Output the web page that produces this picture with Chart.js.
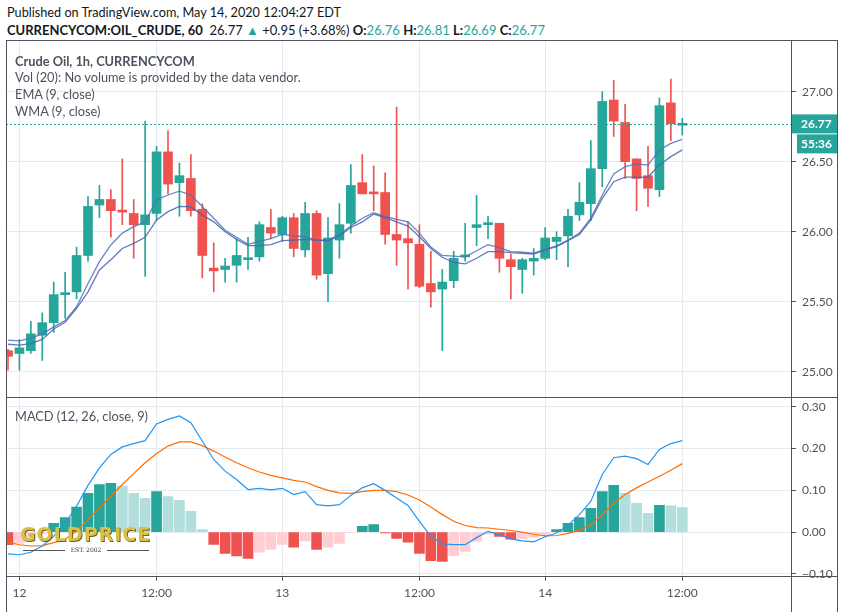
<!DOCTYPE html>
<html>
<head>
<meta charset="utf-8">
<script src="https://cdn.jsdelivr.net/npm/chart.js@4.4.1/dist/chart.umd.min.js"></script>
<style>
  body { margin: 0; width: 845px; height: 612px; background: #fff; position: relative; overflow: hidden; font-family: Lato, sans-serif; }
  canvas { position: absolute; left: 6px; }
  .txt { position: absolute; white-space: nowrap; line-height: 16px; }
  .up { color: #26a69a; }
  .line { position: absolute; background: #50535e; }
  #logo { position: absolute; left: 20px; top: 523px; font-family: "DejaVu Sans", sans-serif; font-weight: bold; font-size: 19px; letter-spacing: 1px; color: #d8c04a; text-shadow: 1px 1px 0 #7a5f14; }
  #est { position: absolute; left: 22px; top: 546px; width: 128px; font: 6px "DejaVu Serif", serif; color: #333; text-align: center; }
</style>
</head>
<body>
<div class="txt" style="left:7px;top:4px;font-size:12.7px;color:#131722;">Published on TradingView.com, May 14, 2020 12:04:27 EDT</div>
<div class="txt" style="left:7px;top:22px;font-size:13px;color:#131722;"><b>CURRENCYCOM:OIL_CRUDE, 60</b>&nbsp; 26.77 <span class="up">▲</span> +0.95 (+3.68%) <b>O:</b><span class="up">26.76</span> <b>H:</b><span class="up">26.81</span> <b>L:</b><span class="up">26.69</span> <b>C:</b><span class="up">26.77</span></div>

<canvas id="priceChart" width="832" height="358" style="top:40px"></canvas>
<canvas id="macdChart" width="832" height="214" style="top:398px"></canvas>

<div class="txt" style="left:15px;top:53px;font-size:12.8px;color:#4c525e;font-weight:bold;">Crude Oil, 1h, CURRENCYCOM</div>
<div class="txt" style="left:15px;top:69px;font-size:12.8px;color:#4c525e;">Vol (20): No volume is provided by the data vendor.</div>
<div class="txt" style="left:15px;top:86px;font-size:12.8px;color:#4c525e;">EMA (9, close)</div>
<div class="txt" style="left:15px;top:103px;font-size:12.8px;color:#4c525e;">WMA (9, close)</div>
<div class="txt" style="left:15px;top:408px;font-size:12.8px;color:#4c525e;">MACD (12, 26, close, 9)</div>

<div id="logo">GOLDPRICE</div>
<div id="est"><span style="display:inline-block;width:42px;border-top:1px solid #555;vertical-align:middle;margin-right:6px"></span>EST. 2002<span style="display:inline-block;width:42px;border-top:1px solid #555;vertical-align:middle;margin-left:6px"></span></div>

<div class="line" style="left:6px;top:40px;width:832px;height:1px"></div>
<div class="line" style="left:6px;top:40px;width:1px;height:572px"></div>
<div class="line" style="left:837px;top:40px;width:1px;height:572px"></div>
<div class="line" style="left:791px;top:40px;width:1px;height:572px"></div>
<div class="line" style="left:6px;top:397px;width:832px;height:1px"></div>
<div class="line" style="left:6px;top:576px;width:832px;height:1px"></div>

<script>
// bar index 0 = 11 May 23:00, one bar per hour (gap at the daily break)
const open  = [25.15,25.13,25.15,25.26,25.35,25.55,25.57,25.83,26.19,26.23, 26.15,26.13,26.05,26.13,26.57,26.35,26.38,26.16,25.74,25.73, 25.76,25.80,25.82,26.03,25.98,26.10,25.87,26.13,25.70,25.94, 26.06,26.35,26.28,26.28,25.98,25.95,25.91,25.63,25.59,25.65, 25.82,26.03,26.05,26.06,25.80,25.73,25.79,25.81,25.93,25.97, 26.12,26.20,26.45,26.94,26.78,26.52,26.40,26.30,26.92,26.76];
const high  = [25.16,25.23,25.36,25.42,25.64,25.71,25.89,26.25,26.33,26.30, 26.52,26.23,26.79,26.61,26.72,26.49,26.55,26.20,25.92,25.81, 25.95,25.96,26.07,26.16,26.11,26.13,26.21,26.15,26.10,26.20, 26.48,26.55,26.47,26.42,26.89,26.07,26.05,25.86,25.73,25.86, 26.06,26.26,26.11,26.06,25.84,25.81,25.88,26.03,26.00,26.16, 26.35,26.65,27.00,27.08,26.91,26.52,26.61,26.955,27.09,26.81];
const low   = [25.01,25.01,25.13,25.08,25.28,25.38,25.52,25.79,26.10,25.96, 26.05,25.81,25.68,26.08,26.27,26.11,26.11,25.67,25.57,25.64, 25.64,25.73,25.79,25.95,25.93,25.82,25.82,25.66,25.50,25.81, 25.99,26.27,26.15,25.91,25.76,25.59,25.60,25.46,25.15,25.60, 25.79,25.90,25.95,25.71,25.52,25.56,25.69,25.80,25.80,25.75, 26.08,26.08,26.32,26.68,26.38,26.15,26.18,26.25,26.65,26.69];
const close = [25.11,25.17,25.27,25.35,25.55,25.56,25.83,26.18,26.23,26.15, 26.14,26.05,26.12,26.57,26.34,26.40,26.15,25.83,25.72,25.755, 25.83,25.81,26.05,25.99,26.10,25.88,26.13,25.69,25.955,26.05, 26.33,26.27,26.27,25.98,25.94,25.92,25.61,25.57,25.64,25.81, 25.83,26.05,26.06,25.81,25.75,25.80,25.81,25.955,25.96,26.11, 26.21,26.45,26.93,26.79,26.50,26.38,26.31,26.90,26.77,26.77];

const wma = [25.226,25.22,25.24,25.27,25.32,25.365,25.464,25.63,25.786,25.905, 25.99,26.036,26.07,26.226,26.262,26.29,26.262,26.18,26.096,26.01, 25.96,25.91,25.93,25.95,25.98,25.97,25.965,25.94,25.94,25.98, 26.04,26.096,26.136,26.11,26.088,26.07,25.99,25.89,25.83,25.826, 25.82,25.864,25.907,25.886,25.857,25.853,25.846,25.874,25.898,25.94, 25.99,26.096,26.262,26.412,26.464,26.484,26.476,26.584,26.63,26.66];
const ema = [25.196,25.19,25.20,25.23,25.305,25.353,25.453,25.57,25.727,25.80, 25.88,25.917,25.96,26.083,26.143,26.18,26.179,26.12,26.07,26.0, 25.945,25.90,25.90,25.907,25.936,25.94,25.945,25.94,25.935,25.97, 26.03,26.07,26.126,26.10,26.07,26.04,25.964,25.88,25.817,25.78, 25.77,25.81,25.857,25.857,25.85,25.846,25.84,25.87,25.893,25.935, 25.98,26.084,26.238,26.357,26.39,26.39,26.39,26.476,26.536,26.584];

const macd = [-0.052,-0.054,-0.048,-0.033,-0.010,0.022,0.062,0.112,0.154,0.186, 0.204,0.212,0.219,0.259,0.270,0.278,0.262,0.218,0.174,0.146, 0.126,0.102,0.105,0.101,0.105,0.090,0.097,0.066,0.063,0.066, 0.088,0.106,0.116,0.100,0.082,0.064,0.026,-0.010,-0.028,-0.030, -0.030,-0.013,0.002,-0.006,-0.016,-0.021,-0.023,-0.011,-0.002,0.016, 0.042,0.074,0.138,0.178,0.182,0.176,0.162,0.198,0.212,0.219];
const signal = [-0.024,-0.030,-0.033,-0.032,-0.025,-0.017,0.002,0.030,0.058,0.086, 0.114,0.140,0.166,0.188,0.206,0.216,0.216,0.207,0.194,0.180, 0.166,0.154,0.144,0.136,0.130,0.124,0.120,0.109,0.100,0.094, 0.093,0.097,0.100,0.100,0.097,0.089,0.077,0.060,0.042,0.026, 0.016,0.011,0.010,0.007,0.004,0.000,-0.005,-0.009,-0.008,-0.003, 0.005,0.018,0.042,0.069,0.090,0.106,0.120,0.134,0.148,0.164];
const hist = [-0.030,-0.026,-0.015,-0.003,0.021,0.035,0.060,0.093,0.114,0.117, 0.110,0.093,0.081,0.097,0.085,0.076,0.050,0.006,-0.029,-0.051, -0.057,-0.063,-0.048,-0.041,-0.029,-0.036,-0.021,-0.041,-0.036,-0.027, -0.001,0.014,0.018,-0.002,-0.015,-0.024,-0.051,-0.068,-0.070,-0.057, -0.046,-0.022,-0.005,-0.010,-0.017,-0.015,-0.012,-0.008,0.006,0.021, 0.035,0.057,0.097,0.112,0.093,0.069,0.045,0.064,0.063,0.059];

const tickIdx  = [1, 13, 24, 36, 47, 59];
const tickText = ['12', '12:00', '13', '12:00', '14', '12:00'];
const priceTicks = [25, 25.5, 26, 26.5, 27];
const macdTicks  = [-0.1, 0, 0.1, 0.2, 0.3];
const countdown = '55:36';

const up = '#26a69a', down = '#ef5350';
const gridColor = '#e3ebf1';
const axisText = '#4c525e';
const xMin = -0.175, xMax = 68.6;

Chart.defaults.font.family = 'Lato, sans-serif';
Chart.defaults.font.size = 12;
Chart.defaults.animation = false;

const candleColor = close.map((c, i) => c >= open[i] ? up : down);
const lastClose = close[close.length - 1];

function xAxis(showLabels) {
    return {
        type: 'linear', min: xMin, max: xMax, offset: false,
        afterBuildTicks: s => { s.ticks = tickIdx.map(v => ({ value: v })); },
        ticks: {
            display: showLabels, color: axisText, padding: 5, maxRotation: 0,
            callback: v => tickText[tickIdx.indexOf(v)]
        },
        grid: { color: gridColor, drawTicks: showLabels, tickLength: 4, tickColor: '#50535e', offset: false },
        border: { display: false },
        afterFit: s => {
            s.height = showLabels ? 35.3 : 0;
            s.paddingLeft = 0; s.paddingRight = 0;
        }
    };
}

function yAxis(min, max, list) {
    return {
        position: 'right', min: min, max: max,
        afterBuildTicks: s => { s.ticks = list.map(v => ({ value: v })); },
        ticks: { color: axisText, padding: 6, callback: v => v < 0 ? '\u2212' + Math.abs(v).toFixed(2) : v.toFixed(2) },
        grid: { color: gridColor, tickLength: 4, tickColor: '#50535e' },
        border: { display: false },
        afterFit: s => { s.width = 46; s.paddingTop = 0; s.paddingBottom = 0; }
    };
}

// dotted last-price line plus the two tags on the price scale
const lastPricePlugin = {
    id: 'lastPrice',
    afterDatasetsDraw(chart) {
        const { ctx, chartArea } = chart;
        const py = Math.round(chart.scales.y.getPixelForValue(lastClose)) + 0.5;
        ctx.save();
        ctx.strokeStyle = up;
        ctx.lineWidth = 1;
        ctx.setLineDash([2, 2]);
        ctx.beginPath();
        ctx.moveTo(chartArea.left, py);
        ctx.lineTo(chartArea.right, py);
        ctx.stroke();
        ctx.restore();
    },
    afterDraw(chart) {
        const { ctx, chartArea } = chart;
        const py = chart.scales.y.getPixelForValue(lastClose);
        ctx.save();
        ctx.fillStyle = up;
        ctx.fillRect(chartArea.right, py - 9.5, 45, 19);
        ctx.fillRect(chartArea.right + 5, py + 10.5, 40, 19);
        ctx.fillStyle = '#fff';
        ctx.font = 'bold 12px Lato, sans-serif';
        ctx.textBaseline = 'middle';
        ctx.fillText(lastClose.toFixed(2), chartArea.right + 9, py);
        ctx.fillText(countdown, chartArea.right + 9, py + 20);
        ctx.restore();
    }
};

new Chart(document.getElementById('priceChart'), {
    type: 'bar',
    data: {
        datasets: [
            {
                type: 'line', label: 'EMA (9, close)', order: 0,
                data: ema.map((v, i) => ({ x: i, y: v })),
                borderColor: 'rgba(70, 100, 175, 0.85)', borderWidth: 1.3, pointRadius: 0, tension: 0
            },
            {
                type: 'line', label: 'WMA (9, close)', order: 0,
                data: wma.map((v, i) => ({ x: i, y: v })),
                borderColor: 'rgba(80, 112, 185, 0.85)', borderWidth: 1.3, pointRadius: 0, tension: 0
            },
            {
                label: 'body', order: 1, grouped: false,
                data: open.map((o, i) => ({ x: i, y: [o, close[i]] })),
                backgroundColor: candleColor, barThickness: 9, minBarLength: 2, borderWidth: 0
            },
            {
                label: 'wick', order: 2, grouped: false,
                data: low.map((l, i) => ({ x: i, y: [l, high[i]] })),
                backgroundColor: candleColor, barThickness: 1, borderWidth: 0
            }
        ]
    },
    options: {
        responsive: false,
        layout: { padding: 0 },
        plugins: { legend: { display: false }, tooltip: { enabled: false } },
        scales: {
            x: xAxis(false),
            y: yAxis(24.812, 27.369, priceTicks)
        }
    },
    plugins: [lastPricePlugin]
});

let prev = 0;
const histColor = hist.map(h => {
    let c;
    if (h >= 0) c = h > prev ? '#26a69a' : '#b2dfdb';
    else c = h < prev ? '#ef5350' : '#ffcdd2';
    prev = h;
    return c;
});

new Chart(document.getElementById('macdChart'), {
    type: 'bar',
    data: {
        datasets: [
            {
                type: 'line', label: 'MACD', order: 0,
                data: macd.map((v, i) => ({ x: i, y: v })),
                borderColor: '#2196f3', borderWidth: 1.2, pointRadius: 0, tension: 0
            },
            {
                type: 'line', label: 'Signal', order: 0,
                data: signal.map((v, i) => ({ x: i, y: v })),
                borderColor: '#ff6d00', borderWidth: 1.2, pointRadius: 0, tension: 0
            },
            {
                label: 'Histogram', order: 1,
                data: hist.map((v, i) => ({ x: i, y: v })),
                backgroundColor: histColor, barThickness: 10, borderWidth: 0
            }
        ]
    },
    options: {
        responsive: false,
        layout: { padding: 0 },
        plugins: { legend: { display: false }, tooltip: { enabled: false } },
        scales: {
            x: xAxis(true),
            y: yAxis(-0.1065, 0.321, macdTicks)
        }
    }
});
</script>
</body>
</html>
